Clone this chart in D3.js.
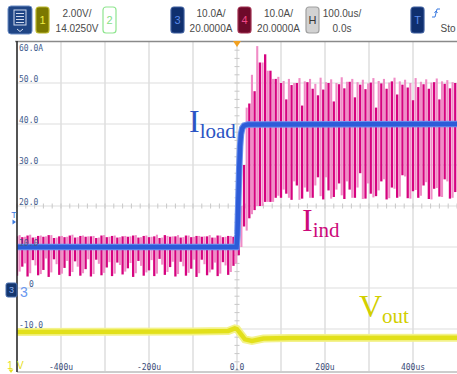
<!DOCTYPE html>
<html><head><meta charset="utf-8">
<script src="https://cdn.jsdelivr.net/npm/d3@7"></script>
<style>body{margin:0;background:#fff}svg{display:block}</style>
</head><body>
<script>
// ---- data ----
const timeTicks = [-400, -200, 0, 200, 400];
const timeTickLabels = ["-400u", "-200u", "0.0", "200u", "400us"];
const ampTicks = [60, 50, 40, 30, 20, 10, -10];
const ampTickLabels = ["60.0A", "50.0", "40.0", "30.0", "20.0", "10.0", "-10.0"];

// header channel settings
const chanIds = ["1", "2", "3", "4", "H"];
const chanScale = ["2.00V/", "", "10.0A/", "10.0A/", "100.0us/"];
const chanOffset = ["14.0250V", "", "20.0000A", "20.0000A", "0.0s"];

// inductor current (ch4): each displayed stroke spans [low, high]; strokes 12 us apart
const strokeStepUs = 12;
const indDarkStartUs = -500;
const indDarkLow = [
  3.0, 5.2, 2.8, 6.8, 3.1, 4.4, 2.7, 7.0, 3.2, 4.9, 2.9, 6.5, 3.0, 4.6, 2.8, 6.9, 3.1, 5.0, 2.9, 6.2, 3.3,
  4.8, 2.7, 6.6, 3.0, 4.3, 2.9, 7.1, 3.2, 5.1, 2.8, 6.4, 3.0, 4.7, 2.7, 6.9, 3.1, 4.5, 2.9, 6.3, 3.2, 5.4,
  8, 15, 17, 19, 20, 21, 21, 22, 22, 23, 21.5, 25, 21.8, 23.5, 22, 27, 21.6, 23.8, 22.2, 25.5, 21.7,
  24, 22, 28, 21.8, 23, 22.4, 26, 21.6, 24.5, 22, 27.5, 21.9, 23.6, 22, 25, 21.7, 24.2, 22.3, 26.5, 21.8, 23.4
];
const indDarkHigh = [
  12.6, 12.4, 12.8, 12.3, 12.7, 12.5, 12.9, 12.2, 12.6, 12.4, 12.8, 12.3, 12.7, 12.5, 12.6, 12.2, 12.8, 12.4, 12.7, 12.3, 12.6,
  12.5, 12.8, 12.3, 12.7, 12.4, 12.6, 12.2, 12.9, 12.5, 12.6, 12.3, 12.8, 12.4, 12.7, 12.5, 12.6, 12.3, 12.8, 12.4, 12.7, 12.5,
  22, 30, 45, 48, 55, 57, 53, 51, 50, 46, 49.5, 50, 44.5, 50.2, 48.6, 47, 48.4, 50, 45.5, 49.7, 48.7,
  50.3, 46.5, 49.6, 48.5, 50.1, 44, 49.9, 48.6, 50.4, 47.2, 49.6, 48.9, 45.8, 49, 49.7, 48.6, 50.2, 46, 49.8, 48.7, 50
];
const indLightStartUs = -494;
const indLightLow = [
  4.0, 6.0, 3.6, 5.5, 3.4, 7.2, 3.8, 5.8, 3.5, 6.6, 3.9, 5.2, 3.6, 7.0, 3.4, 5.9, 3.7, 6.3, 3.5, 5.6, 4.0,
  6.1, 3.6, 5.4, 3.8, 6.8, 3.5, 5.7, 3.9, 6.4, 3.4, 5.3, 3.7, 6.9, 3.6, 5.8, 3.8, 6.2, 3.5, 5.5, 3.9, 6.0,
  10, 14, 18, 20, 20, 21, 21, 22.5, 24, 22, 26, 21.5, 24.5, 22, 25, 22.4, 27, 21.8, 24, 22.6, 26,
  22, 24.5, 21.7, 25.5, 22.1, 23.8, 26.5, 21.9, 24.2, 22.3, 27.2, 21.8, 23.9, 22.5, 25.8, 21.6, 24.4, 22.2, 26, 22
];
const indLightHigh = [
  12.9, 12.5, 13.0, 12.4, 12.8, 12.6, 12.9, 12.3, 12.7, 12.5, 13.0, 12.4, 12.8, 12.6, 12.7, 12.3, 12.9, 12.5, 12.8, 12.4, 12.7,
  12.6, 12.9, 12.4, 12.8, 12.5, 13.0, 12.3, 12.7, 12.6, 12.9, 12.4, 12.8, 12.5, 12.7, 12.6, 12.9, 12.3, 12.8, 12.5, 12.7, 12.6,
  20, 44, 52, 59, 55, 53, 51, 51.5, 50.5, 51, 50, 51.2, 50.4, 51, 49.8, 51.3, 50.2, 50.9, 50, 51.4, 50.3,
  51, 50.2, 50.8, 49.9, 51.2, 50.5, 51, 50.1, 51.3, 50.4, 50.8, 50, 51.2, 50.3, 50.9, 50.1, 51.1, 50.4, 50.7, 50.2
];

// load current (ch3)
const loadTime = [-500, -1, 1, 3, 5, 7, 9, 12, 16, 25, 500];
const loadAmp  = [10, 10, 13, 21, 29, 34.5, 37.5, 39, 39.6, 39.9, 40];

// output voltage (ch1)
const voutTime = [-500, -300, -100, -20, -5, 0, 8, 18, 34, 60, 120, 500];
const voutVolt = [7.88, 7.89, 7.90, 7.93, 8.05, 8.02, 7.80, 7.52, 7.44, 7.56, 7.59, 7.60];

// ---- drawing ----
const W = 457, H = 374;
const svg = d3.select("body").append("svg").attr("width", W).attr("height", H);
const x = d3.scaleLinear().domain([-500, 500]).range([17, 457]);
const y = d3.scaleLinear().domain([-20, 60]).range([370, 42]);
const yV = d3.scaleLinear().domain([14.025 - 8, 14.025 + 8]).range([370, 42]);

// header
const hdr = svg.append("g").attr("font-family", "Liberation Sans, Arial, sans-serif");
hdr.append("rect").attr("x", 8).attr("y", 6).attr("width", 24).attr("height", 28).attr("rx", 3)
  .attr("fill", "#1f4585").attr("stroke", "#6a8cc4");
hdr.append("rect").attr("x", 14).attr("y", 10).attr("width", 12).attr("height", 15)
  .attr("fill", "none").attr("stroke", "#d0daee");
[13.5, 16.5, 19.5, 22.5].forEach(v => hdr.append("line").attr("x1", 16).attr("x2", 24)
  .attr("y1", v).attr("y2", v).attr("stroke", "#d0daee"));
hdr.append("path").attr("d", "M17,29 L20,31.5 L23,29").attr("fill", "none").attr("stroke", "#d0daee");

const boxStyle = {
  "1": {x: 36, fill: "#7b7800", stroke: "#b8b428", tc: "#f2ee40"},
  "2": {x: 103, fill: "#ffffff", stroke: "#8fe58f", tc: "#86e086"},
  "3": {x: 171, fill: "#0f2f6e", stroke: "#3c5c9c", tc: "#5a8ae8"},
  "4": {x: 238, fill: "#6e0a2a", stroke: "#a03050", tc: "#f04888"},
  "H": {x: 306, fill: "#d2d2d2", stroke: "#a0a0a0", tc: "#333"}
};
const textCenter = {"1": 77, "3": 211, "4": 278.5, "H": 342};
chanIds.forEach((id, i) => {
  const s = boxStyle[id];
  hdr.append("rect").attr("x", s.x).attr("y", 7).attr("width", 13).attr("height", 26).attr("rx", 3)
    .attr("fill", s.fill).attr("stroke", s.stroke).attr("stroke-width", 1.2);
  hdr.append("text").attr("x", s.x + 6.5).attr("y", 24).attr("text-anchor", "middle")
    .attr("font-size", 11).attr("fill", s.tc).text(id);
  if (chanScale[i]) {
    hdr.append("text").attr("x", textCenter[id]).attr("y", 17).attr("text-anchor", "middle")
      .attr("font-size", 10).attr("fill", "#4a4a4a").text(chanScale[i]);
    hdr.append("text").attr("x", textCenter[id]).attr("y", 31.5).attr("text-anchor", "middle")
      .attr("font-size", 10).attr("fill", "#4a4a4a").text(chanOffset[i]);
  }
});
hdr.append("rect").attr("x", 411).attr("y", 7).attr("width", 13).attr("height", 26).attr("rx", 3)
  .attr("fill", "#0f2f6e").attr("stroke", "#3c5c9c").attr("stroke-width", 1.2);
hdr.append("text").attr("x", 417.5).attr("y", 24).attr("text-anchor", "middle")
  .attr("font-size", 11).attr("fill", "#5a8ae8").text("T");
hdr.append("path").attr("d", "M432,17 L435,17 L437,9 L440,9 M434.5,13 L436,11 L437.5,13")
  .attr("fill", "none").attr("stroke", "#3a7ae0").attr("stroke-width", 1);
hdr.append("text").attr("x", 440.5).attr("y", 31.5).attr("font-size", 10).attr("fill", "#4a4a4a").text("Sto");

// grid
const grid = svg.append("g");
[-400, -300, -200, -100, 0, 100, 200, 300, 400].forEach(t => grid.append("line")
  .attr("x1", x(t)).attr("x2", x(t)).attr("y1", 42).attr("y2", 371)
  .attr("stroke", "#dedede").attr("stroke-width", 1.5));
[50, 40, 30, 20, 10, 0, -10].forEach(a => grid.append("line")
  .attr("x1", 17).attr("x2", 457).attr("y1", y(a)).attr("y2", y(a))
  .attr("stroke", "#dedede").attr("stroke-width", 1.2));
d3.range(-20, 61, 2).forEach(a => grid.append("line")
  .attr("x1", x(0) - 2.5).attr("x2", x(0) + 2.5).attr("y1", y(a)).attr("y2", y(a))
  .attr("stroke", "#c8c8c8"));
d3.range(-500, 501, 20).forEach(t => grid.append("line")
  .attr("x1", x(t)).attr("x2", x(t)).attr("y1", y(20) - 2.5).attr("y2", y(20) + 2.5)
  .attr("stroke", "#c8c8c8"));

// frame
svg.append("line").attr("x1", 15).attr("x2", 457).attr("y1", 41.5).attr("y2", 41.5)
  .attr("stroke", "#8a8a8a").attr("stroke-width", 1.5);
svg.append("line").attr("x1", 17).attr("x2", 457).attr("y1", 372).attr("y2", 372)
  .attr("stroke", "#9a9a9a").attr("stroke-width", 1);

// traces
svg.append("defs").append("clipPath").attr("id", "plot").append("rect")
  .attr("x", 17).attr("y", 42).attr("width", 440).attr("height", 330);
const tr = svg.append("g").attr("clip-path", "url(#plot)");

function strokes(lows, highs, start, color, width) {
  tr.append("g").selectAll("line").data(lows).join("line")
    .attr("x1", (d, i) => x(start + i * strokeStepUs)).attr("x2", (d, i) => x(start + i * strokeStepUs))
    .attr("y1", d => y(d)).attr("y2", (d, i) => y(highs[i]))
    .attr("stroke", color).attr("stroke-width", width);
}
strokes(indLightLow, indLightHigh, indLightStartUs, "#f08cc6", 2.1);
strokes(indDarkLow, indDarkHigh, indDarkStartUs, "#d6037f", 2.3);

const loadLine = d3.line().x((d, i) => x(loadTime[i])).y(d => y(d));
tr.append("path").attr("d", loadLine(loadAmp)).attr("fill", "none")
  .attr("stroke", "#6b91ee").attr("stroke-width", 6.5);
tr.append("path").attr("d", loadLine(loadAmp)).attr("fill", "none")
  .attr("stroke", "#2d5cd8").attr("stroke-width", 4.5);

const voutLine = d3.line().x((d, i) => x(voutTime[i])).y(d => yV(d));
tr.append("path").attr("d", voutLine(voutVolt)).attr("fill", "none")
  .attr("stroke", "#f3f28a").attr("stroke-width", 8);
tr.append("path").attr("d", voutLine(voutVolt)).attr("fill", "none")
  .attr("stroke", "#e2e01a").attr("stroke-width", 4.5);

// top trigger position marker
svg.append("path").attr("d", `M${x(0) - 4},41 L${x(0) + 4},41 L${x(0)},47 Z`).attr("fill", "#f0a020");

// left axis line
svg.append("line").attr("x1", 17).attr("x2", 17).attr("y1", 41).attr("y2", 372)
  .attr("stroke", "#2a2a2a").attr("stroke-width", 1.6);

// axis labels
const lab = svg.append("g").attr("font-family", "DejaVu Sans Mono, monospace").attr("font-size", 8);
ampTicks.forEach((a, i) => lab.append("text").attr("x", 19)
  .attr("y", a === 60 ? 51 : y(a) - 1.5).attr("fill", "#3f5c8e").text(ampTickLabels[i]));
lab.append("text").attr("x", 29).attr("y", y(0) - 1.5).attr("fill", "#3f5c8e").text("0");
timeTicks.forEach((t, i) => lab.append("text").attr("x", x(t)).attr("y", 370)
  .attr("text-anchor", "middle").attr("fill", "#3a4c78").text(timeTickLabels[i]));

// left markers
svg.append("text").attr("x", 14).attr("y", 218).attr("text-anchor", "middle")
  .attr("font-family", "Liberation Sans, sans-serif").attr("font-size", 9).attr("fill", "#3a7ae0").text("T");
svg.append("path").attr("d", "M12.5,219.5 L16,222 L12.5,224.5 Z").attr("fill", "#3a7ae0");
svg.append("rect").attr("x", 6).attr("y", 283).attr("width", 11).attr("height", 14).attr("rx", 2)
  .attr("fill", "#14366e").attr("stroke", "#4a70b0");
svg.append("text").attr("x", 11.5).attr("y", 293).attr("text-anchor", "middle")
  .attr("font-family", "Liberation Sans, sans-serif").attr("font-size", 9).attr("fill", "#8fb0f0").text("3");
svg.append("text").attr("x", 20).attr("y", 297)
  .attr("font-family", "Liberation Sans, sans-serif").attr("font-size", 14).attr("fill", "#6a98f0").text("3");
svg.append("text").attr("x", 7).attr("y", 369)
  .attr("font-family", "Liberation Sans, sans-serif").attr("font-size", 11).attr("fill", "#e6e020").text("1");
svg.append("path").attr("d", "M8.5,369.5 L13.5,369.5 L11,373 Z").attr("fill", "#e6e020");
svg.append("text").attr("x", 17).attr("y", 369)
  .attr("font-family", "Liberation Sans, sans-serif").attr("font-size", 10).attr("fill", "#e6e020").text("V");

// trace names
function name(xp, yp, main, sub, color) {
  const t = svg.append("text").attr("x", xp).attr("y", yp)
    .attr("font-family", "Liberation Serif, Times New Roman, serif").attr("fill", color);
  t.append("tspan").attr("font-size", 32).text(main);
  t.append("tspan").attr("font-size", 21).attr("dy", 6).text(sub);
}
name(189, 132, "I", "load", "#2b54c4");
name(302, 231, "I", "ind", "#cc0a7a");
name(359, 317, "V", "out", "#d2cf00");
</script>
</body></html>
